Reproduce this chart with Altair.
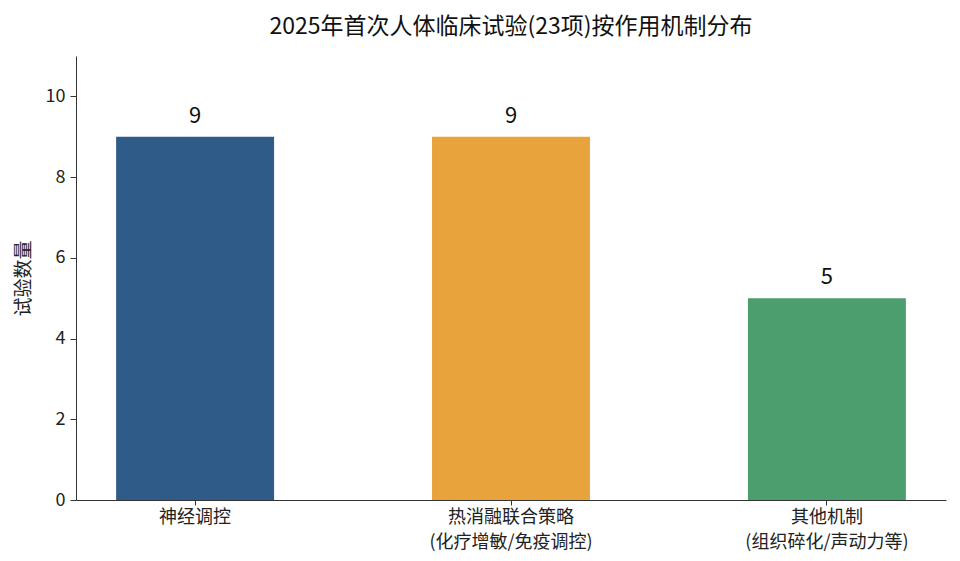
import altair as alt
import pandas as pd

categories = ["神经调控", "热消融联合策略\n(化疗增敏/免疫调控)", "其他机制\n(组织碎化/声动力等)"]
counts = [9, 9, 5]
colors = ["#2E5B88", "#E8A33C", "#4C9E6E"]

FONT = "Noto Sans CJK SC"

df = pd.DataFrame({"机制": categories, "数量": counts})

x = alt.X(
    "机制:N",
    sort=categories,
    title=None,
    scale=alt.Scale(paddingInner=0.5, paddingOuter=0.127),
    axis=alt.Axis(
        labelExpr="split(datum.label, '\\n')",
        labelAngle=0,
        labelFontSize=18,
        labelLineHeight=25,
        labelColor="#222",
        labelFont=FONT,
        tickSize=5,
        labelPadding=3,
        domainColor="#333",
        tickColor="#333",
        grid=False,
    ),
)

y = alt.Y(
    "数量:Q",
    title="试验数量",
    scale=alt.Scale(domain=[0, 11], nice=False),
    axis=alt.Axis(
        values=[0, 2, 4, 6, 8, 10],
        labelFontSize=18,
        labelColor="#222",
        labelFont=FONT,
        titleFont=FONT,
        titleFontSize=19,
        titleFontWeight="normal",
        titleColor="#222",
        titlePadding=12,
        tickSize=6,
        labelPadding=5,
        domainColor="#333",
        tickColor="#333",
        grid=False,
    ),
)

base = alt.Chart(df).encode(x=x, y=y)

bars = base.mark_bar().encode(
    color=alt.Color("机制:N", sort=categories, scale=alt.Scale(domain=categories, range=colors), legend=None)
)

labels = base.mark_text(baseline="bottom", dy=-9, fontSize=22, font=FONT, color="#111").encode(
    text=alt.Text("数量:Q")
)

chart = (
    (bars + labels)
    .properties(
        width=870,
        height=444,
        background="white",
        autosize=alt.AutoSizeParams(type="none"),
        padding={"left": 68, "top": 48, "right": 6, "bottom": 53},
        title=alt.TitleParams(
            "2025年首次人体临床试验(23项)按作用机制分布",
            font=FONT,
            fontSize=23,
            fontWeight="normal",
            color="#111",
            anchor="middle",
            offset=17,
        ),
    )
    .configure_view(strokeWidth=0, stroke="transparent")
)

chart.save("out.html", embed_options={"renderer": "svg", "actions": False})
